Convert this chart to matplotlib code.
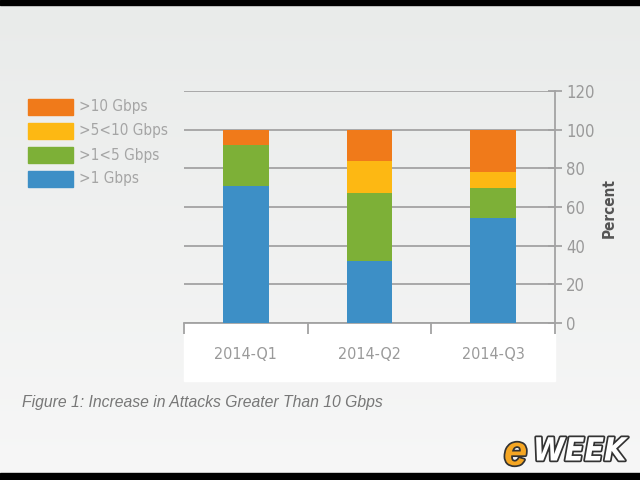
import numpy as np
import matplotlib
matplotlib.use("Agg")
import matplotlib.pyplot as plt
from matplotlib.patches import Rectangle
import matplotlib.patheffects as pe

quarters = ["2014-Q1", "2014-Q2", "2014-Q3"]
below_1 = [71, 32, 54.5]
from_1_to_5 = [21, 35, 15.5]
from_5_to_10 = [0, 17, 8]
above_10 = [8, 16, 22]

series = [
    (">1 Gbps", below_1, "#3d8fc6"),
    (">1<5 Gbps", from_1_to_5, "#7db037"),
    (">5<10 Gbps", from_5_to_10, "#fdb813"),
    (">10 Gbps", above_10, "#f07a1a"),
]

narrow = ["DejaVu Sans"]
W, H = 640, 480

fig = plt.figure(figsize=(6.4, 4.8), dpi=100)

# background gradient
bg = fig.add_axes([0, 0, 1, 1], zorder=-10)
grad = np.linspace(0, 1, 256).reshape(-1, 1)
bg.imshow(grad, aspect="auto", cmap=matplotlib.colors.LinearSegmentedColormap.from_list(
    "bg", ["#e9ebea", "#f7f7f7"]), extent=[0, 1, 0, 1], origin="upper")
bg.set_xlim(0, 1)
bg.set_ylim(0, 1)
bg.axis("off")

def fx(px):
    return px / W

def fy(py):
    return 1 - py / H

# black bands top and bottom
fig.add_artist(Rectangle((0, fy(5)), 1, 5 / H, transform=fig.transFigure, color="black", zorder=5))
fig.add_artist(Rectangle((0, 0), 1, 7 / H, transform=fig.transFigure, color="black", zorder=5))

# white panel behind category labels
fig.add_artist(Rectangle((fx(184), fy(381)), (555 - 184) / W, 58 / H,
                         transform=fig.transFigure, color="white", zorder=-5))

ax = fig.add_axes([fx(184), fy(323), (555 - 184) / W, (323 - 91) / H])
ax.patch.set_alpha(0)

x = np.arange(len(quarters))
bottom = np.zeros(len(quarters))
for name, vals, col in series:
    ax.bar(x, vals, 0.37, bottom=bottom, color=col, zorder=3)
    bottom += np.array(vals)

ax.set_xlim(-0.5, 2.5)
ax.set_ylim(0, 120)
ax.set_yticks(range(0, 121, 20))
ax.yaxis.tick_right()
ax.grid(axis="y", color="#a3a3a3", lw=1.3, zorder=1)
for s in ["top", "left"]:
    ax.spines[s].set_visible(False)
for s in ["right", "bottom"]:
    ax.spines[s].set_color("#a3a3a3")
    ax.spines[s].set_linewidth(1.3)
ax.tick_params(axis="y", direction="inout", length=10, width=1.3, color="#a3a3a3",
               labelcolor="#9a9a9a", labelsize=12, pad=3)
for t in ax.get_yticklabels():
    t.set_family(narrow)
    t.set_stretch("condensed")

ax.set_xticks(x)
ax.set_xticklabels(quarters, family=narrow, fontsize=11.5, color="#9a9a9a",
                   fontstretch="condensed")
ax.tick_params(axis="x", which="major", length=0, pad=17)
ax.set_xticks([-0.5, 0.5, 1.5, 2.5], minor=True)
ax.tick_params(axis="x", which="minor", length=8, width=1.3, color="#a3a3a3", direction="out")

fig.text(fx(609), fy(208), "Percent", rotation=90, ha="center", va="center",
         fontsize=11, fontweight="bold", color="#555555", family=narrow,
         fontstretch="condensed")

# legend
rows = [107, 131, 155, 179]
for py, (name, vals, col) in zip(rows, series[::-1]):
    fig.add_artist(Rectangle((fx(28), fy(py + 8)), 45 / W, 16 / H,
                             transform=fig.transFigure, color=col))
    fig.text(fx(79), fy(py), name, ha="left", va="center", fontsize=11,
             color="#a5a5a5", family=narrow, fontstretch="condensed")

fig.text(fx(22), fy(403), "Figure 1: Increase in Attacks Greater Than 10 Gbps",
         fontsize=11.3, style="italic", color="#777777", ha="left", va="center",
         family=["Liberation Sans", "DejaVu Sans"])

# logo
outline = [pe.withStroke(linewidth=2.5, foreground="#333333")]
fig.text(fx(504), fy(454), "e", fontsize=30, fontweight="bold", style="italic",
         color="#f5a623", ha="left", va="center", family=["Liberation Sans", "DejaVu Sans"],
         path_effects=outline)
fig.text(fx(533), fy(452), "WEEK", fontsize=23, fontweight="bold", style="italic",
         color="white", ha="left", va="center", family=narrow, fontstretch="condensed",
         path_effects=outline)

fig.savefig("out.png", dpi=100)
